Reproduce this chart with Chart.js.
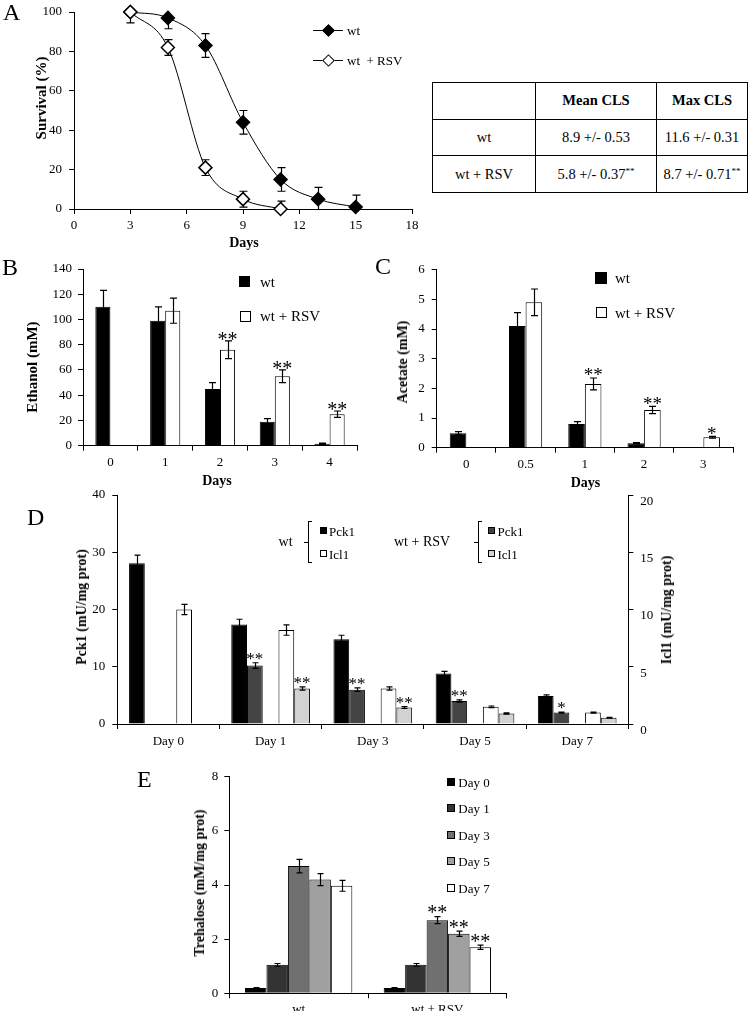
<!DOCTYPE html>
<html>
<head>
<meta charset="utf-8">
<script src="https://cdn.jsdelivr.net/npm/chart.js@4.4.1/dist/chart.umd.min.js"></script>
<style>
  body { margin: 0; background: #fff; width: 750px; height: 1011px; position: relative; overflow: hidden;
         font-family: "Liberation Serif", "Times New Roman", serif; color: #000; }
  canvas { position: absolute; }
  .t { position: absolute; white-space: nowrap; line-height: 1; transform: translateY(-50%); }
  .c { position: absolute; white-space: nowrap; line-height: 1; transform: translate(-50%, -50%); }
  .v { position: absolute; white-space: nowrap; line-height: 1; font-weight: bold; transform: translate(-50%, -50%) rotate(-90deg); }
  .sq { position: absolute; box-sizing: border-box; border: 1px solid #000; }
  .ln { position: absolute; background: #000; }
  #cls { position: absolute; left: 432px; top: 82px; width: 316px; height: 111px; border-collapse: collapse; font-size: 14.5px; }
  #cls td, #cls th { border: 1.5px solid #000; text-align: center; padding: 0; }
  #cls th { font-weight: bold; }
  #cls sup { font-size: 9px; vertical-align: 5px; }
</style>
</head>
<body>
<table id="cls"></table>
<script>
// ---- A: survival curve
const survDays = [3, 5, 7, 9, 11, 13, 15];
const survWt = [100, 97, 83, 44, 15, 5, 1];
const survWtErr = [null, 5.5, 6, 6, 6, 6, 6];
const survRsvDays = [3, 5, 7, 9, 11];
const survRsv = [100, 82, 21, 5, 0];
const survRsvErr = [5.5, 4, 4, 4, 4];

// ---- A: CLS table
const clsStrains = ['wt', 'wt + RSV'];
const clsMean = ['8.9 +/- 0.53', '5.8 +/- 0.37'];
const clsMax = ['11.6 +/- 0.31', '8.7 +/- 0.71'];
const clsSig = ['', '**'];

// ---- B: ethanol
const ethDays = ['0', '1', '2', '3', '4'];
const ethWt = [110, 99, 45, 19, 1.5];
const ethWtErr = [13, 11, 5, 2.5, 0.5];
const ethRsv = [null, 107, 76, 55, 25];
const ethRsvErr = [null, 10, 7, 5, 2.5];
const ethRsvStars = ['', '', '**', '**', '**'];

// ---- C: acetate
const aceDays = ['0', '0.5', '1', '2', '3'];
const aceWt = [0.49, 4.1, 0.8, 0.15, null];
const aceWtErr = [0.05, 0.45, 0.08, 0.02, null];
const aceRsv = [null, 4.9, 2.15, 1.27, 0.35];
const aceRsvErr = [null, 0.45, 0.2, 0.12, 0.03];
const aceRsvStars = ['', '', '**', '**', '*'];

// ---- D: Pck1 (left axis) and Icl1 (right axis)
const enzDays = ['Day 0', 'Day 1', 'Day 3', 'Day 5', 'Day 7'];
const pckWt = [28.1, 17.4, 14.8, 8.8, 4.9];
const pckWtErr = [1.4, 0.9, 0.7, 0.4, 0.2];
const pckRsv = [null, 10.2, 6.0, 4.0, 2.0];
const pckRsvErr = [null, 0.5, 0.3, 0.2, 0.1];
const pckRsvStars = ['', '**', '**', '**', '*'];
const iclWt = [10.0, 8.2, 3.1, 1.5, 1.0];
const iclWtErr = [0.45, 0.45, 0.15, 0.07, 0.05];
const iclRsv = [null, 3.1, 1.45, 0.92, 0.55];
const iclRsvErr = [null, 0.15, 0.08, 0.05, 0.03];
const iclRsvStars = ['', '**', '**', '', ''];
const gapSlot = [null, null, null, null, null];

// ---- E: trehalose
const treGroups = ['wt', 'wt + RSV'];
const treLabels = ['Day 0', 'Day 1', 'Day 3', 'Day 5', 'Day 7'];
const treDay0 = [0.2, 0.2];
const treDay1 = [1.05, 1.05];
const treDay3 = [4.7, 2.7];
const treDay5 = [4.2, 2.2];
const treDay7 = [3.97, 1.7];
const treDay0Err = [0.01, 0.01];
const treDay1Err = [0.05, 0.05];
const treDay3Err = [0.25, 0.13];
const treDay5Err = [0.22, 0.1];
const treDay7Err = [0.2, 0.08];
const treStars = ['', '**'];

const FONT = '"Liberation Serif", "Times New Roman", serif';
const tickFont = { family: FONT, size: 13 };

// error bars + significance stars, drawn from the dataset values through the scales
const errorBars = {
  id: 'errorBars',
  beforeDatasetsDraw(chart, args, opts) {
    if (opts.behind) drawErrors(chart, opts);
  },
  afterDatasetsDraw(chart, args, opts) {
    if (!opts.behind) drawErrors(chart, opts);
    drawStars(chart, opts);
  }
};

function valueOf(raw) {
  return raw !== null && typeof raw === 'object' ? raw.y : raw;
}

function drawErrors(chart, opts) {
  const ctx = chart.ctx;
  const area = chart.chartArea;
  ctx.save();
  ctx.beginPath();
  ctx.rect(area.left - 20, area.top - 1, area.right - area.left + 40, area.bottom - area.top + 1);
  ctx.clip();
  ctx.strokeStyle = '#000';
  ctx.lineWidth = 1.2;
  chart.data.datasets.forEach((ds, di) => {
    if (!ds.errors) return;
    const meta = chart.getDatasetMeta(di);
    const ys = chart.scales[meta.yAxisID];
    meta.data.forEach((el, i) => {
      const v = valueOf(ds.data[i]);
      const e = ds.errors[i];
      if (v == null || e == null) return;
      const x = Math.round(el.x) + 0.5;
      const y1 = ys.getPixelForValue(v + e);
      const y2 = ys.getPixelForValue(v - e);
      const c = opts.cap / 2;
      ctx.beginPath();
      ctx.moveTo(x, y1); ctx.lineTo(x, y2);
      ctx.moveTo(x - c, y1); ctx.lineTo(x + c, y1);
      ctx.moveTo(x - c, y2); ctx.lineTo(x + c, y2);
      ctx.stroke();
    });
  });
  ctx.restore();
}

function drawStars(chart, opts) {
  const ctx = chart.ctx;
  ctx.save();
  ctx.fillStyle = '#000';
  ctx.font = (opts.starSize || 16) + 'px ' + FONT;
  ctx.textAlign = 'center';
  ctx.textBaseline = 'alphabetic';
  chart.data.datasets.forEach((ds, di) => {
    if (!ds.stars) return;
    const meta = chart.getDatasetMeta(di);
    const ys = chart.scales[meta.yAxisID];
    meta.data.forEach((el, i) => {
      const s = ds.stars[i];
      const v = valueOf(ds.data[i]);
      if (!s || v == null) return;
      const e = ds.errors ? ds.errors[i] || 0 : 0;
      ctx.fillText(s, el.x, ys.getPixelForValue(v + e) + (opts.starDy || 0));
    });
  });
  ctx.restore();
}

function valueAxis(min, max, step, width, pad, position) {
  return {
    type: 'linear',
    position: position || 'left',
    min: min,
    max: max,
    ticks: { stepSize: step, color: '#000', font: tickFont, padding: pad },
    grid: { drawOnChartArea: false, tickLength: 5, color: '#000' },
    border: { color: '#000' },
    afterFit(s) { s.width = width; s.paddingTop = 0; s.paddingBottom = 0; }
  };
}

function categoryAxis(height, pad) {
  return {
    type: 'category',
    offset: true,
    ticks: { color: '#000', font: tickFont, padding: pad, maxRotation: 0, autoSkip: false },
    grid: { drawOnChartArea: false, tickLength: 5, color: '#000', offset: true },
    border: { color: '#000' },
    afterFit(s) { s.height = height; s.paddingLeft = 0; s.paddingRight = 0; }
  };
}

// box = canvas [left, top, width, height], area = plot [left, top, right, bottom]
function makeChart(box, area, wl, wr, hb, config) {
  const cv = document.createElement('canvas');
  cv.width = box[2];
  cv.height = box[3];
  cv.style.left = box[0] + 'px';
  cv.style.top = box[1] + 'px';
  document.body.appendChild(cv);
  config.options.responsive = false;
  config.options.animation = false;
  config.options.devicePixelRatio = 1;
  config.options.events = [];
  config.options.layout = {
    padding: {
      left: area[0] - box[0] - wl,
      top: area[1] - box[1],
      right: box[0] + box[2] - area[2] - wr,
      bottom: box[1] + box[3] - area[3] - hb
    }
  };
  config.options.plugins.legend = { display: false };
  config.options.plugins.tooltip = { enabled: false };
  config.plugins = [errorBars];
  return new Chart(cv, config);
}

function barSet(data, color, errors, stars, axis) {
  return {
    data: data, errors: errors, stars: stars, yAxisID: axis || 'y',
    backgroundColor: color, borderColor: '#000', borderWidth: 1
  };
}

// ---- A
makeChart([0, 0, 425, 258], [74, 12, 412, 209], 45, 0, 30, {
  type: 'line',
  data: {
    datasets: [
      {
        label: 'wt + RSV', order: 0, clip: false,
        data: survRsvDays.map((d, i) => ({ x: d, y: survRsv[i] })),
        errors: survRsvErr,
        borderColor: '#000', borderWidth: 1, cubicInterpolationMode: 'monotone',
        pointStyle: 'rectRot', pointRadius: 6.5, pointBackgroundColor: '#fff',
        pointBorderColor: '#000', pointBorderWidth: 1.5
      },
      {
        label: 'wt', order: 1, clip: false,
        data: survDays.map((d, i) => ({ x: d, y: survWt[i] })),
        errors: survWtErr,
        borderColor: '#000', borderWidth: 1, cubicInterpolationMode: 'monotone',
        pointStyle: 'rectRot', pointRadius: 6.5, pointBackgroundColor: '#000',
        pointBorderColor: '#000', pointBorderWidth: 1.5
      }
    ]
  },
  options: {
    scales: {
      x: Object.assign(valueAxis(0, 18, 3, 0, 4, 'bottom'), {
        afterFit(s) { s.height = 30; s.paddingLeft = 0; s.paddingRight = 0; }
      }),
      y: valueAxis(0, 100, 20, 45, 7)
    },
    plugins: { errorBars: { behind: true, cap: 8 } }
  }
});

// ---- B
makeChart([0, 255, 372, 245], [83, 269, 357, 445.7], 45, 0, 30, {
  type: 'bar',
  data: {
    labels: ethDays,
    datasets: [
      barSet(ethWt, '#000', ethWtErr),
      barSet(ethRsv, '#fff', ethRsvErr, ethRsvStars)
    ]
  },
  options: {
    categoryPercentage: 0.55, barPercentage: 1,
    scales: { x: categoryAxis(30, 4.5), y: valueAxis(0, 140, 20, 45, 6) },
    plugins: { errorBars: { cap: 7, starSize: 20, starDy: 5 } }
  }
});

// ---- C
makeChart([378, 255, 372, 245], [436.7, 269.7, 733, 447.7], 45, 0, 30, {
  type: 'bar',
  data: {
    labels: aceDays,
    datasets: [
      barSet(aceWt, '#000', aceWtErr),
      barSet(aceRsv, '#fff', aceRsvErr, aceRsvStars)
    ]
  },
  options: {
    categoryPercentage: 0.56, barPercentage: 1,
    scales: { x: categoryAxis(30, 4.5), y: valueAxis(0, 6, 1, 45, 7) },
    plugins: { errorBars: { cap: 7, starSize: 19, starDy: 3.5 } }
  }
});

// ---- D
makeChart([0, 485, 720, 275], [117.3, 495, 628.3, 724], 45, 35, 30, {
  type: 'bar',
  data: {
    labels: enzDays,
    datasets: [
      barSet(pckWt, '#000', pckWtErr),
      barSet(pckRsv, '#444', pckRsvErr, pckRsvStars),
      barSet(gapSlot, '#fff'),
      barSet(iclWt, '#fff', iclWtErr, null, 'y2'),
      barSet(iclRsv, '#d2d2d2', iclRsvErr, iclRsvStars, 'y2')
    ]
  },
  options: {
    categoryPercentage: 0.77, barPercentage: 1,
    scales: {
      x: categoryAxis(30, 5),
      y: valueAxis(0, 40, 10, 45, 7),
      y2: Object.assign(valueAxis(0, 20, 5, 35, 7, 'right'), { ticks: { stepSize: 5, color: '#000', font: tickFont, padding: 7, align: 'start' } })
    },
    plugins: { errorBars: { cap: 6, starSize: 17, starDy: 1.5 } }
  }
});

// ---- E
const treDays = [treDay0, treDay1, treDay3, treDay5, treDay7];
const treErrs = [treDay0Err, treDay1Err, treDay3Err, treDay5Err, treDay7Err];
const treColors = ['#000', '#333', '#707070', '#a0a0a0', '#fff'];
makeChart([150, 765, 420, 246], [229.3, 776.7, 506.7, 993.3], 45, 0, 17.7, {
  type: 'bar',
  data: {
    labels: treGroups,
    datasets: treDays.map((d, i) => barSet(d, treColors[i], treErrs[i], i >= 2 ? treStars : null))
  },
  options: {
    categoryPercentage: 0.774, barPercentage: 1,
    scales: { x: categoryAxis(17.7, 3), y: valueAxis(0, 8, 2, 45, 6) },
    plugins: { errorBars: { cap: 6, starSize: 20, starDy: 2.5 } }
  }
});

// ---- text, titles and legends
function add(cls, html, x, y, size, extra) {
  const d = document.createElement('div');
  d.className = cls;
  d.innerHTML = html;
  d.style.left = x + 'px';
  d.style.top = y + 'px';
  d.style.fontSize = size + 'px';
  if (extra) Object.assign(d.style, extra);
  document.body.appendChild(d);
  return d;
}
function box(cls, x, y, w, h, bg) {
  const d = document.createElement('div');
  d.className = cls;
  Object.assign(d.style, { left: x + 'px', top: y + 'px', width: w + 'px', height: h + 'px', background: bg });
  document.body.appendChild(d);
  return d;
}

// panel letters
add('t', 'A', 3, 12, 24);
add('t', 'B', 2, 267, 24);
add('t', 'C', 375, 266, 24);
add('t', 'D', 27, 517, 24);
add('t', 'E', 137, 779, 24);

// axis titles
add('v', 'Survival (%)', 41, 98, 15);
add('c', 'Days', 244, 243, 14, { fontWeight: 'bold' });
add('v', 'Ethanol (mM)', 32, 367, 15);
add('c', 'Days', 217, 481, 14, { fontWeight: 'bold' });
add('v', 'Acetate (mM)', 403, 362, 14);
add('c', 'Days', 585.5, 483, 14, { fontWeight: 'bold' });
add('v', 'Pck1 (mU/mg prot)', 82, 607, 14);
add('v', 'Icl1 (mU/mg prot)', 666.7, 610, 14);
add('v', 'Trehalose (mM/mg prot)', 200, 883, 14);

// A legend
box('ln', 313, 29.5, 30, 1, '#000');
box('sq', 323.5, 25.5, 9, 9, '#000').style.transform = 'rotate(45deg)';
add('t', 'wt', 347, 30, 13);
box('ln', 313, 59.5, 30, 1, '#000');
box('sq', 323.5, 55.5, 9, 9, '#fff').style.transform = 'rotate(45deg)';
add('t', 'wt&nbsp; + RSV', 347, 60, 13);

// table
const table = document.getElementById('cls');
let rows = '<tr><td></td><th>Mean CLS</th><th>Max CLS</th></tr>';
clsStrains.forEach((s, i) => {
  const sig = clsSig[i] ? '<sup>' + clsSig[i] + '</sup>' : '';
  rows += '<tr><td>' + s + '</td><td>' + clsMean[i] + sig + '</td><td>' + clsMax[i] + sig + '</td></tr>';
});
table.innerHTML = rows;
table.querySelectorAll('tr').forEach(tr => {
  tr.children[0].style.width = '102px';
  tr.children[1].style.width = '120px';
});

// B legend
box('sq', 239, 276, 11, 11, '#000');
add('t', 'wt', 260, 281.5, 15);
box('sq', 240, 311, 11, 11, '#fff');
add('t', 'wt + RSV', 260, 316, 15);

// C legend
box('sq', 595, 271.5, 12, 12, '#000');
add('t', 'wt', 615, 277.5, 15);
box('sq', 596, 307, 11, 11, '#fff');
add('t', 'wt + RSV', 615, 312.5, 15);

// D legend with braces
function brace(x, top, bottom) {
  box('ln', x, top, 1, bottom - top, '#000');
  box('ln', x, top, 4, 1, '#000');
  box('ln', x, bottom - 1, 4, 1, '#000');
  box('ln', x - 4, (top + bottom) / 2, 4, 1, '#000');
}
add('t', 'wt', 278.6, 541.7, 14);
brace(308, 521, 563);
box('sq', 319.5, 526.5, 7, 7, '#000');
add('t', 'Pck1', 329, 530.5, 13);
box('sq', 319.5, 549.5, 7, 7, '#fff');
add('t', 'Icl1', 329, 553.5, 13);
add('t', 'wt + RSV', 394, 541.7, 14);
brace(478.4, 521, 563);
box('sq', 488, 526.5, 7, 7, '#444');
add('t', 'Pck1', 497.5, 530.5, 13);
box('sq', 488, 549.5, 7, 7, '#d2d2d2');
add('t', 'Icl1', 497.5, 553.5, 13);

// E legend
const treLegendY = [781.7, 808.3, 834.7, 861, 887.7];
treLabels.forEach((lab, i) => {
  box('sq', 447, treLegendY[i] - 4, 8, 8, treColors[i]);
  add('t', lab, 458.3, treLegendY[i], 13);
});
</script>
</body>
</html>
